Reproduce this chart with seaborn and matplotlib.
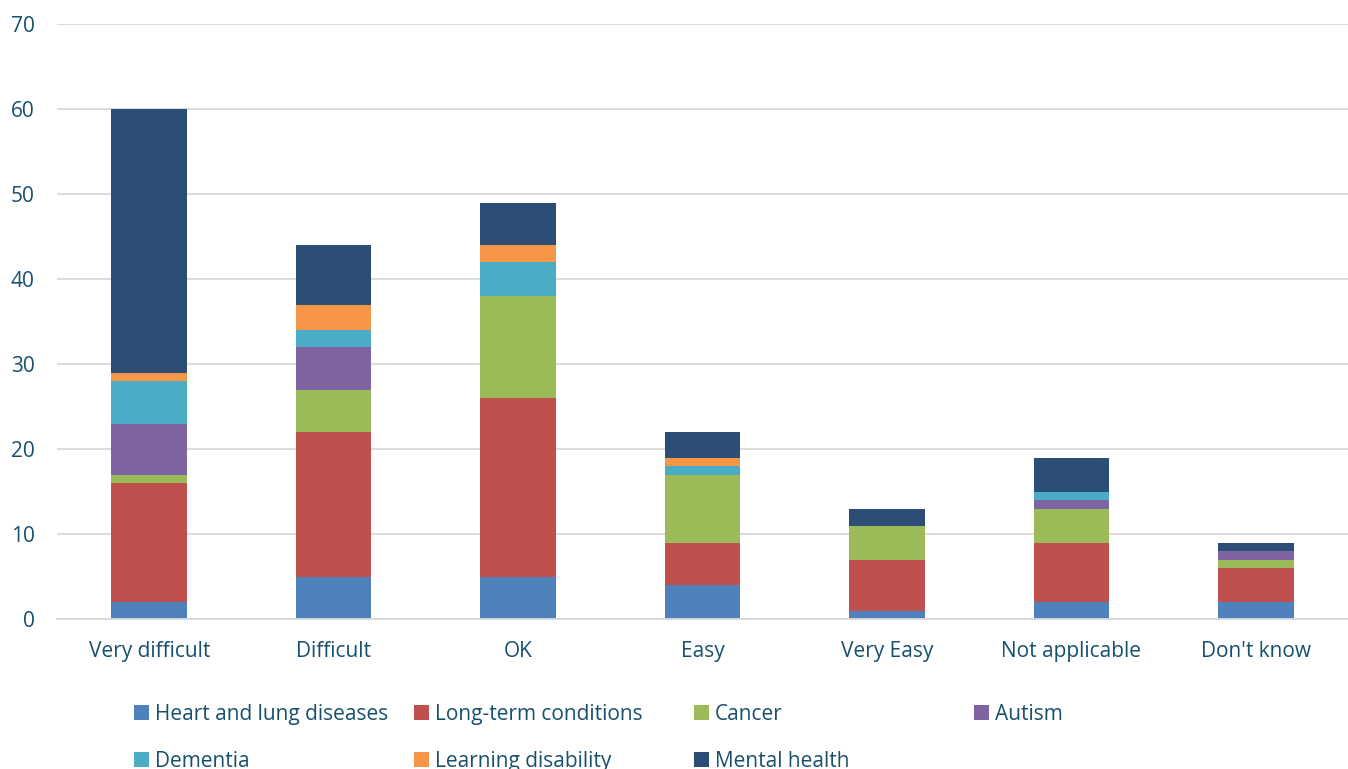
import numpy as np
import pandas as pd
import matplotlib
matplotlib.use("Agg")
import matplotlib.pyplot as plt
from matplotlib.patches import Patch
import seaborn as sns

categories = ["Very difficult", "Difficult", "OK", "Easy", "Very Easy", "Not applicable", "Don't know"]

heart_lung = [2, 5, 5, 4, 1, 2, 2]
long_term = [14, 17, 21, 5, 6, 7, 4]
cancer = [1, 5, 12, 8, 4, 4, 1]
autism = [6, 5, 0, 0, 0, 1, 1]
dementia = [5, 2, 4, 1, 0, 1, 0]
learning = [1, 3, 2, 1, 0, 0, 0]
mental = [31, 7, 5, 3, 2, 4, 1]

series_names = ["Heart and lung diseases", "Long-term conditions", "Cancer", "Autism",
                "Dementia", "Learning disability", "Mental health"]
series_values = [heart_lung, long_term, cancer, autism, dementia, learning, mental]
colors = ["#4F81BD", "#C0504D", "#9BBB59", "#8064A2", "#4BACC6", "#F79646", "#2C4D75"]

text_color = "#17506E"
grid_color = "#D9D9D9"

sns.set_theme(style="white")
plt.rcParams["font.family"] = ["Open Sans", "DejaVu Sans"]

fig = plt.figure(figsize=(13.48, 7.69), dpi=100)
ax = fig.add_axes([57 / 1348, 1 - 619 / 769, 1 - 57 / 1348, (619 - 24) / 769])

bottom = np.zeros(len(categories))
for name, vals, col in zip(series_names, series_values, colors):
    df = pd.DataFrame({"category": categories, "value": vals})
    sns.barplot(data=df, x="category", y="value", order=categories, color=col,
                width=0.41, bottom=bottom.copy(), linewidth=0, saturation=1,
                errorbar=None, ax=ax)
    bottom += np.array(vals, dtype=float)

ax.set_xlim(-0.5, len(categories) - 0.5)
ax.set_ylim(0, 70)
ax.set_yticks(range(0, 71, 10))
ax.yaxis.grid(True, color=grid_color, linewidth=1.3)
ax.set_axisbelow(True)
ax.set_xlabel("")
ax.set_ylabel("")

for side in ["top", "right", "left"]:
    ax.spines[side].set_visible(False)
ax.spines["bottom"].set_color(grid_color)
ax.spines["bottom"].set_linewidth(1.3)

ax.tick_params(axis="y", length=0, pad=16, labelsize=15, labelcolor=text_color)
ax.tick_params(axis="x", which="major", length=0, pad=16, labelsize=15, labelcolor=text_color)
ax.set_xticks(np.arange(-0.5, len(categories), 1.0), minor=True)
ax.tick_params(axis="x", which="minor", length=7, width=1.3, color=grid_color)

# Legend laid out in four columns, filled row by row
handles = [Patch(facecolor=c, edgecolor="none") for c in colors]
columns = [[0, 4], [1, 5], [2, 6], [3]]
col_x = [134, 414, 694, 974]
for idx, xpix in zip(columns, col_x):
    leg = fig.legend([handles[i] for i in idx], [series_names[i] for i in idx],
                     loc="upper left", bbox_to_anchor=(xpix / 1348, 1 - 704 / 769),
                     frameon=False, fontsize=15, handlelength=0.7, handleheight=0.7,
                     handletextpad=0.3, labelspacing=1.25, borderpad=0, borderaxespad=0)
    for t in leg.get_texts():
        t.set_color(text_color)

fig.savefig("out.png", dpi=100)
